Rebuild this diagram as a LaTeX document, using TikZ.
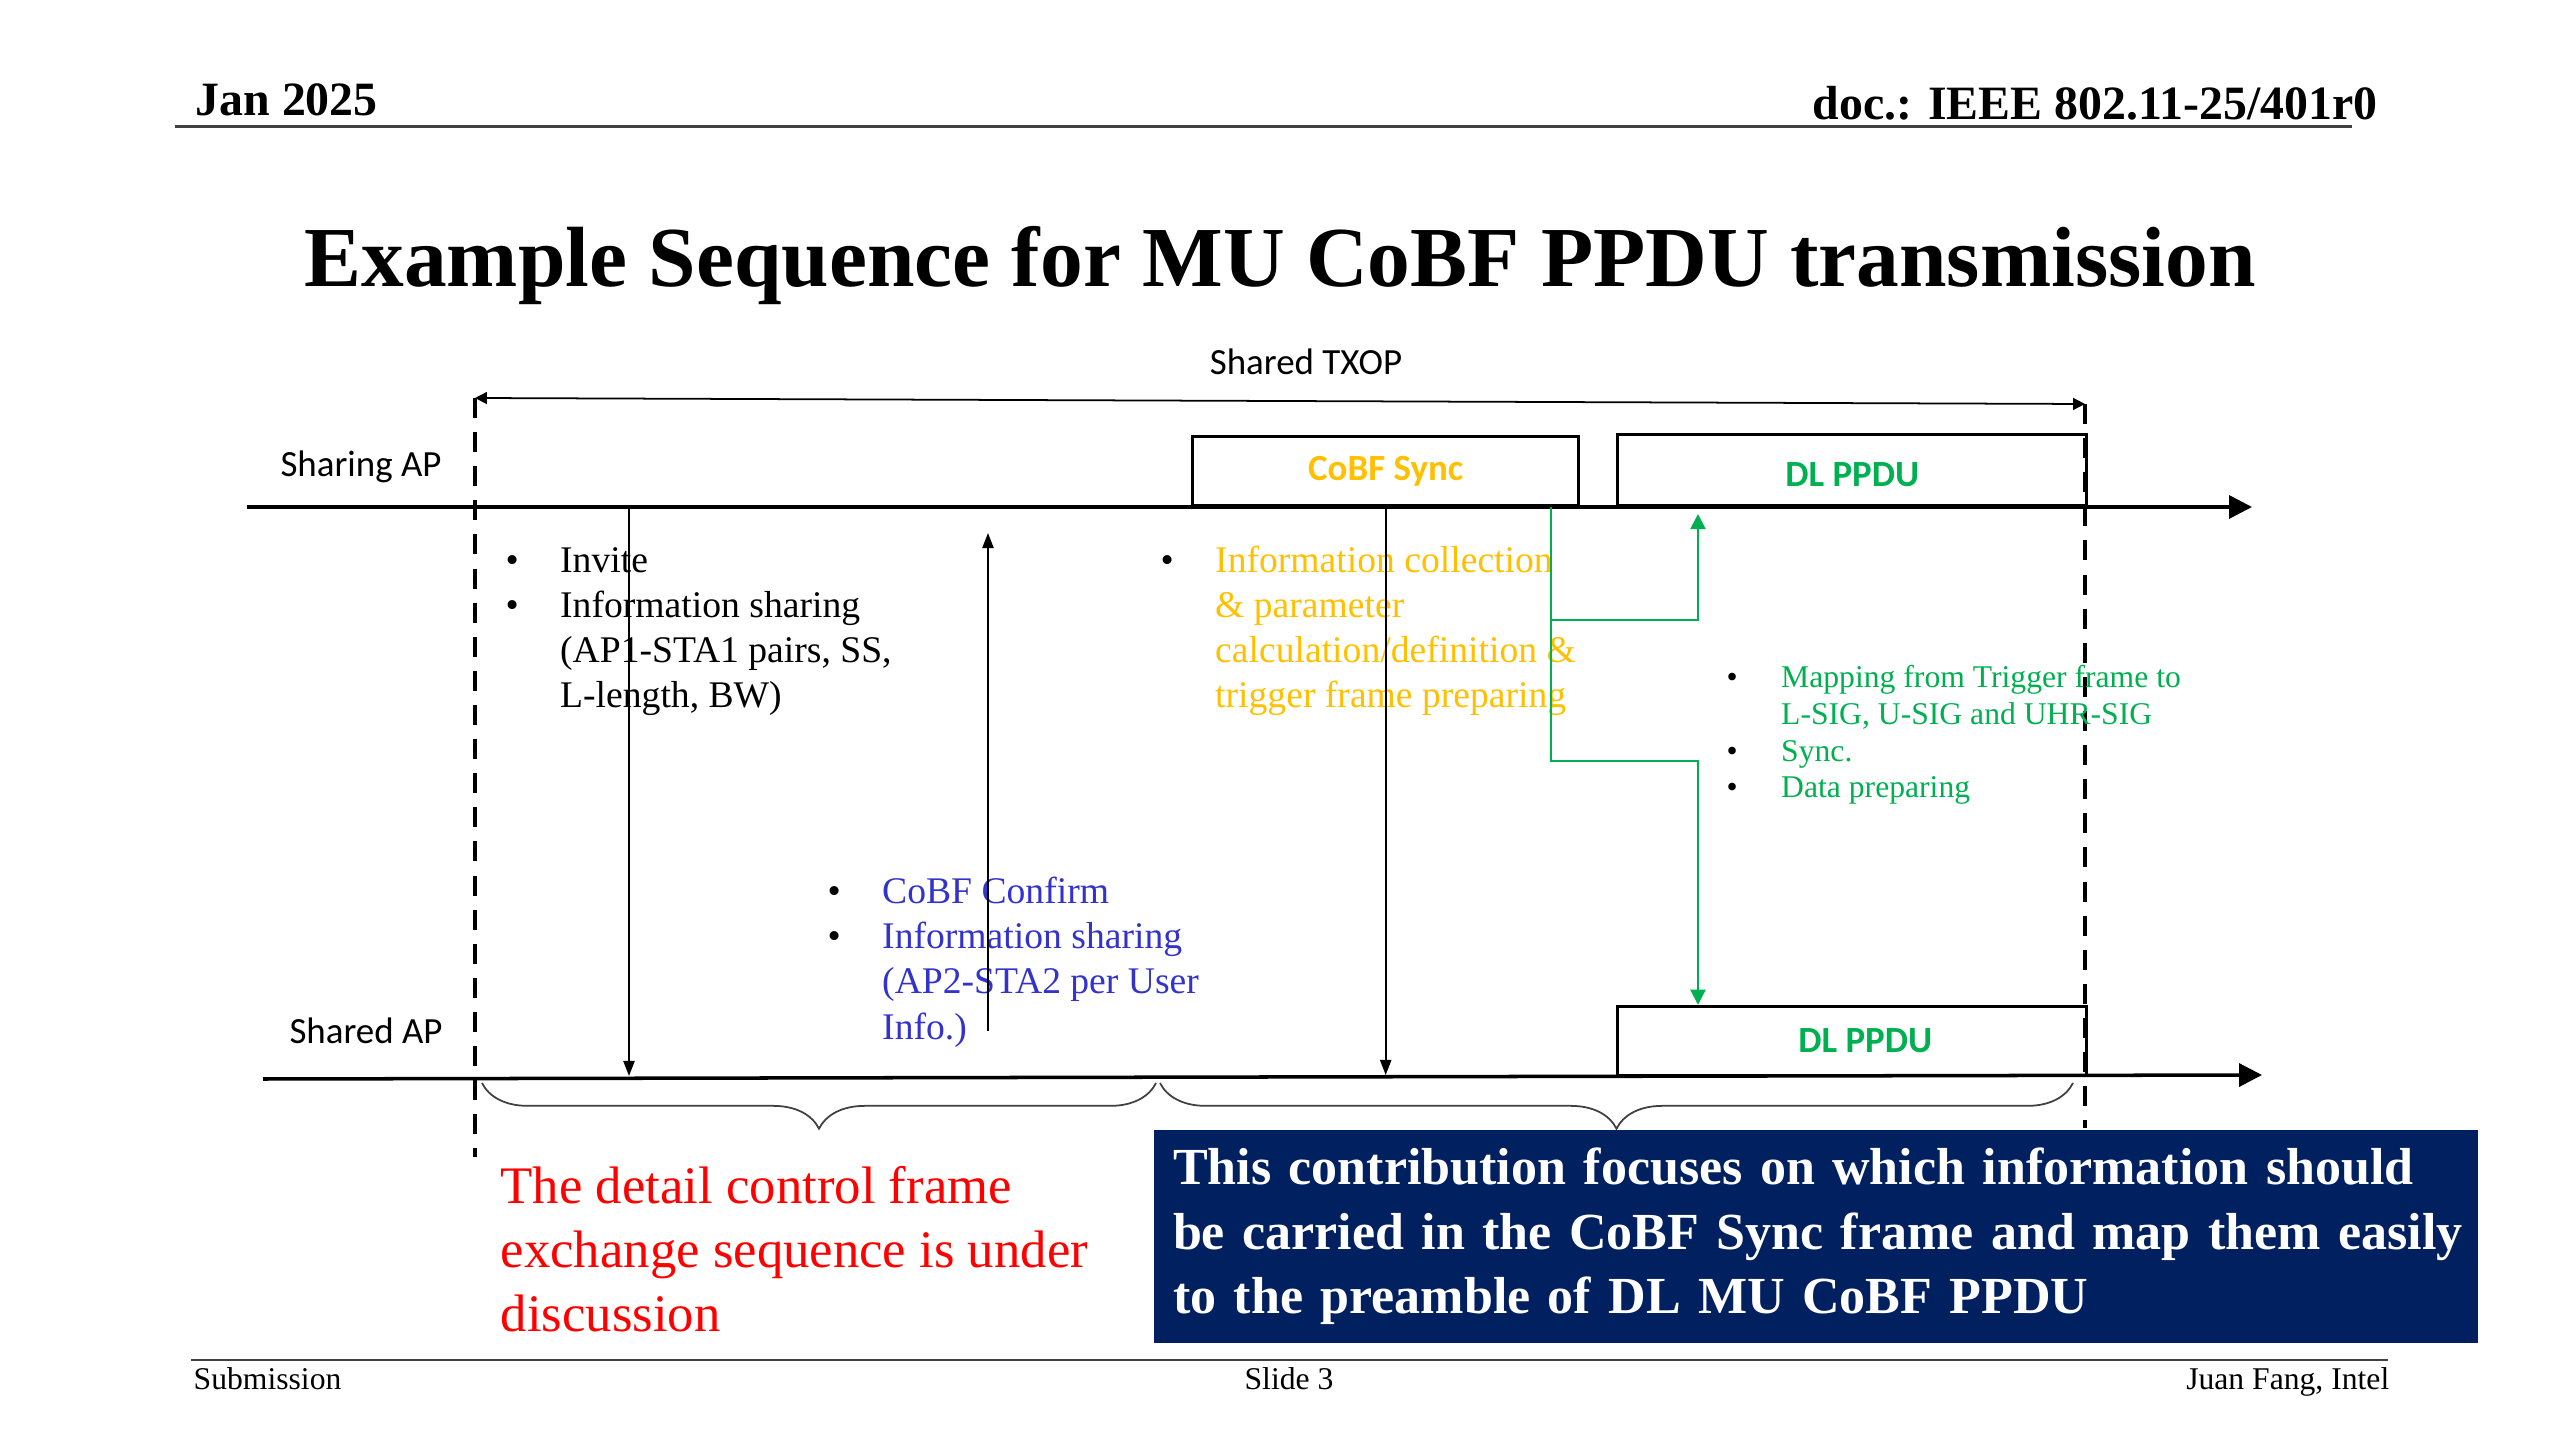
\documentclass[tikz,border=0pt]{standalone}
\usepackage{fontspec}
\setmainfont{Liberation Serif}
\newfontfamily\calibri{Carlito}
\usetikzlibrary{arrows.meta,calc,decorations.pathreplacing}

\definecolor{cobforange}{HTML}{FFC000}
\definecolor{ppdugreen}{HTML}{00B050}
\definecolor{confirmblue}{HTML}{3333CC}
\definecolor{notered}{HTML}{FF0000}
\definecolor{boxnavy}{HTML}{002060}

% bullet and hanging indent for the item lists
\newcommand{\bul}{\makebox[15.5pt][l]{\textcolor{black}{\textbullet}}}
\newcommand{\ind}{\hspace*{15.5pt}}

\tikzset{
  rulegray/.style={draw=black!75, line width=0.85pt},
  sanslabel/.style={inner sep=0pt, font=\calibri\fontsize{10.5}{12}\selectfont},
  framebox/.style={draw, line width=0.9pt, inner sep=0pt, anchor=south west,
    font=\calibri\bfseries\fontsize{10.5}{12}\selectfont},
  timeline/.style={line width=1pt, -{Triangle[length=6.5pt,width=6.5pt]}},
  txop/.style={line width=0.5pt, {Triangle[length=3.4pt,width=3.4pt]}-{Triangle[length=3.4pt,width=3.4pt]}},
  boundary/.style={line width=1.1pt, dash pattern=on 5.7pt off 4pt},
  msg/.style={line width=0.5pt, -{Triangle[length=4.3pt,width=3.2pt]}},
  greenlink/.style={draw=ppdugreen, line width=0.6pt, -{Triangle[length=4.3pt,width=4.3pt]}},
  bracket/.style={draw=black!75, line width=0.5pt, decorate,
    decoration={brace, mirror, amplitude=13pt}},
  % multi-line nodes: the base anchor sits on the last line
  itemlist/.style={anchor=base west, align=left, inner sep=0pt,
    font=\fontsize{10.7}{12.8}\selectfont},
}

\begin{document}
\begin{tikzpicture}[x=0.01cm, y=-0.01cm]
\useasboundingbox (0,0) rectangle (2560,1440);

% header
\node[anchor=base west, inner sep=0pt, font=\bfseries\fontsize{13.6}{16}\selectfont] (date) at (195,116) {Jan 2025};
\node[anchor=base east, inner sep=0pt, font=\bfseries\fontsize{13.6}{16}\selectfont] (docid) at (2378,120) {doc.: IEEE 802.11-25/401r0};
\coordinate (headL) at (175,127);
\coordinate (headR) at (2352,127);
\draw[rulegray] (headL) -- (headR);
\node[anchor=base, inner sep=0pt, font=\bfseries\fontsize{24.3}{28}\selectfont] (title) at (1280,287) {Example Sequence for MU CoBF PPDU transmission};

% shared TXOP
\coordinate (txopL) at (475,398);
\coordinate (txopR) at (2085,404);
\coordinate (endL) at (475,1157);
\coordinate (endR) at (2085,1128);
\node[sanslabel, anchor=base] (txoplabel) at (1306,375) {Shared TXOP};
\draw[txop] (txopL) -- (txopR);
\draw[boundary] (txopL) -- (endL);
\draw[boundary] (txopR) -- (endR);

% time lines
\coordinate (sharingL) at (247,507);
\coordinate (sharingR) at (2252,507);
\coordinate (sharedL) at (263,1079);
\coordinate (sharedR) at (2262,1075);
\draw[timeline] (sharingL) -- (sharingR);
\draw[timeline] (sharedL) -- (sharedR);
\node[sanslabel, anchor=base] (sharing) at (361,477) {Sharing AP};
\node[sanslabel, anchor=base] (shared) at (366,1043) {Shared AP};

% frames
\node[framebox, text=cobforange, minimum width=3.86cm, minimum height=0.69cm] (cobf) at (1191,507) {CoBF Sync};
\node[framebox, text=ppdugreen, minimum width=4.69cm, minimum height=0.71cm, text height=9.6pt, text depth=0pt] (dlup) at (1616,507) {DL PPDU};
\node[framebox, text=ppdugreen, minimum width=4.69cm, minimum height=0.69cm] (dllow) at (1616,1077) {\hspace*{7.4pt}DL PPDU};

% item lists
\node[itemlist] (invite) at (505,708) {\bul Invite\\ \bul Information sharing\\ \ind (AP1-STA1 pairs, SS,\\ \ind L-length, BW)};
\node[itemlist, text=cobforange] (collect) at (1160,708) {\bul Information collection\\ \ind \& parameter\\ \ind calculation/definition \&\\ \ind trigger frame preparing};
\node[itemlist, text=ppdugreen, font=\fontsize{9}{10.5}\selectfont] (mapping) at (1726,798) {\bul Mapping from Trigger frame to\\ \ind L-SIG, U-SIG and UHR-SIG\\ \bul Sync.\\ \bul Data preparing};
\node[itemlist, text=confirmblue] (confirm) at (827,1039) {\bul CoBF Confirm\\ \bul Information sharing\\ \ind (AP2-STA2 per User\\ \ind Info.)};

% frame exchange
\coordinate (inviteT) at (629,507);
\coordinate (inviteB) at (629,1076);
\coordinate (confirmB) at (988,1031);
\coordinate (confirmT) at (988,533);
\draw[msg] (inviteT) -- (inviteB);
\draw[msg] (confirmB) -- (confirmT);
\draw[msg] (cobf.south) -- (cobf.south |- sharedR);

% mapping to the DL PPDUs
\draw[greenlink] ($(cobf.south east)+(-29,0)$) coordinate (split) -- ++(0,254) -| ($(dllow.north west)+(82,0)$);
\draw[greenlink, shorten >=2pt] ($(split)+(0,113)$) -| ($(dlup.south west)+(82,0)$);

% phases
\coordinate (braceA) at (482,1083);
\coordinate (braceB) at (1156,1083);
\coordinate (braceC) at (1160,1083);
\coordinate (braceD) at (2073,1083);
\draw[bracket] (braceA) -- (braceB);
\draw[bracket] (braceC) -- (braceD);

% notes
\node[anchor=base west, align=left, inner sep=0pt, text=notered, font=\fontsize{15}{18.2}\selectfont] (note) at (500,1331) {The detail control frame\\ exchange sequence is under\\ discussion};
\node[fill=boxnavy, text=white, anchor=north west, minimum width=13.23cm, minimum height=2.13cm,
  text width=12.95cm, align=left, inner xsep=4pt, inner ysep=0pt,
  execute at begin node={\hyphenpenalty=10000 },
  font=\bfseries\fontsize{14.8}{18.3}\selectfont] (focus) at (1153,1129)
  {\hspace*{1.5pt}This contribution focuses on which information should\\ \hspace*{1.5pt}be carried in the CoBF Sync frame and map them easily\\ \hspace*{1.5pt}to the preamble of DL MU CoBF PPDU};

% footer
\coordinate (footL) at (191,1360);
\coordinate (footR) at (2388,1360);
\draw[rulegray] (footL) -- (footR);
\node[anchor=base west, inner sep=0pt, font=\fontsize{9}{11}\selectfont] (submission) at (193,1389) {Submission};
\node[anchor=base, inner sep=0pt, font=\fontsize{9}{11}\selectfont] (slide) at (1289,1389) {Slide 3};
\node[anchor=base east, inner sep=0pt, font=\fontsize{9}{11}\selectfont] (author) at (2390,1389) {Juan Fang, Intel};
\end{tikzpicture}
\end{document}
